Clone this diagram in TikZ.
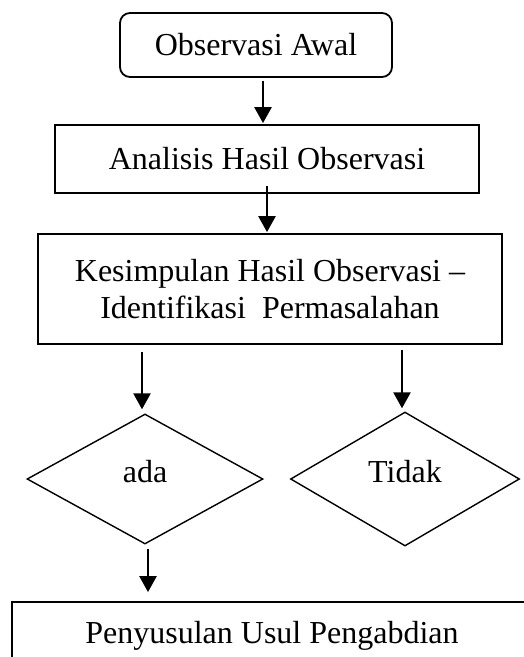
\documentclass[tikz,border=0pt]{standalone}
\usepackage{fontspec}
\setmainfont{Liberation Serif}
\usetikzlibrary{shapes.geometric,arrows.meta}

\begin{document}
\begin{tikzpicture}[x=1pt, y=-1pt,
  boite/.style={draw, line width=1.8pt, inner sep=0pt, align=center,
    font=\fontsize{32}{37}\selectfont},
  losange/.style={draw, diamond, line width=1.4pt, inner sep=0pt,
    text height=22pt, text depth=16pt, font=\fontsize{32}{37}\selectfont},
  fleche/.style={-{Triangle[length=16pt, width=17pt]}, line width=2.5pt}]

 \useasboundingbox (0,0) rectangle (524,657);
 \clip (0,0) rectangle (524,657);

 %%%%%%%%%% Boites %%%%%%%%%%
 \node[boite, rounded corners=10pt, minimum width=272pt, minimum height=64pt] (obs) at (256,45) {Observasi Awal};
 \node[boite, minimum width=424pt, minimum height=68pt] (anl) at (267,159) {Analisis Hasil Observasi};
 \node[boite, minimum width=464pt, minimum height=110pt] (kes) at (270,289) {Kesimpulan Hasil Observasi --\\Identifikasi~ Permasalahan};

 %%%%%%%%%% Losanges %%%%%%%%%%
 \node[losange, minimum width=236pt, minimum height=130pt] (ada) at (145,479) {ada};
 \node[losange, minimum width=229pt, minimum height=134pt] (tdk) at (405,479) {Tidak};

 % Usulan
 \node[boite, minimum width=520pt, minimum height=68pt] (usl) at (272,636) {Penyusulan Usul Pengabdian};

 %%%%%%%%%% Fleches %%%%%%%%%%
 \draw[fleche, shorten <=3pt, shorten >=1pt] (obs.south -| 263,0) -- (anl.north -| 263,0);
 \draw[fleche, shorten <=-8pt, shorten >=1pt] (anl.south -| 267,0) -- (kes.north -| 267,0);
 \draw[fleche, shorten <=7pt, shorten >=4pt] (kes.south -| 142,0) -- (ada.north -| 142,0);
 \draw[fleche, shorten <=5pt, shorten >=3pt] (kes.south -| 402,0) -- (tdk.north -| 402,0);
 \draw[fleche, shorten <=4pt, shorten >=9pt] (ada.south -| 148,0) -- (usl.north -| 148,0);

\end{tikzpicture}
\end{document}
